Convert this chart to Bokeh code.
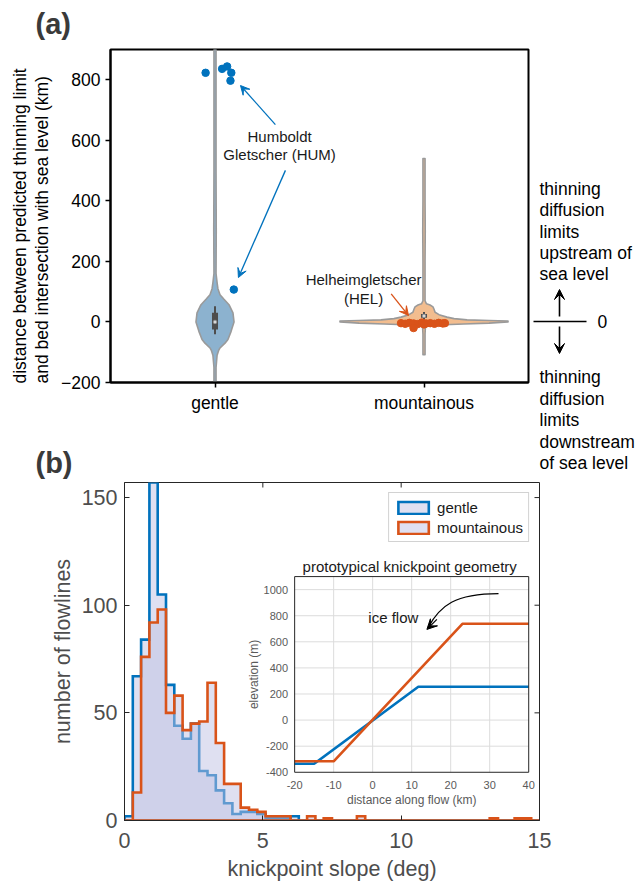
import numpy as np
from bokeh.plotting import figure
from bokeh.models import (Range1d, FixedTicker, Label, Arrow, VeeHead, GridBox)
from bokeh.embed import file_html
from bokeh.resources import INLINE
from bokeh.core.properties import value

FONT = "Liberation Sans"
BLUE = "#0072BD"
ORANGE = "#D95319"

# ---------------- panel (a) data ----------------
CATEGORIES = ["gentle", "mountainous"]
CAT_POS = [1, 2]
A_Y_TICKS = [-200, 0, 200, 400, 600, 800]

GENTLE_VIOLIN_Y = [-200, -150, -110, -95, -86, -70, -58, -31, 0, 30, 57, 75, 90, 110, 130, 160, 300, 500, 700, 900]
GENTLE_VIOLIN_HW = [0.005, 0.005, 0.010, 0.017, 0.024, 0.048, 0.062, 0.077, 0.091, 0.086,
                    0.067, 0.043, 0.024, 0.014, 0.010, 0.005, 0.006, 0.005, 0.005, 0.005]
MOUNT_VIOLIN_Y = [-108, -40, -14, -11, -9, -7, -4, 0, 3, 5, 7, 11, 16, 24, 32, 42, 50, 56, 60, 70, 200, 300, 400, 540]
MOUNT_VIOLIN_HW = [0.005, 0.005, 0.007, 0.038, 0.096, 0.191, 0.311, 0.402, 0.402, 0.311, 0.206, 0.144,
                   0.110, 0.072, 0.053, 0.048, 0.043, 0.029, 0.012, 0.005, 0.005, 0.006, 0.005, 0.005]

GENTLE_BOX = [-25, 30]
GENTLE_WHISKER = [-41, 52]
GENTLE_MEDIAN = 0
MOUNT_BOX = [14, 26]
MOUNT_WHISKER = [8, 33]
MOUNT_MEDIAN = 20

GENTLE_PTS_X = [0.955, 1.034, 1.058, 1.078, 1.074, 1.090]
GENTLE_PTS_Y = [823, 836, 844, 823, 797, 107]
MOUNT_PTS_X = [1.89, 1.91, 1.93, 1.95, 1.97, 1.99, 2.01, 2.03, 2.05, 2.07, 2.09, 2.10, 1.95, 2.00]
MOUNT_PTS_Y = [-4, -6, -3, -5, -7, -2, -5, -4, -6, -3, -5, -4, -20, -8]

# ---------------- panel (b) data ----------------
BIN_WIDTH = 0.3
GENTLE_COUNTS = [2, 67, 84, 157, 105, 63, 44, 38, 45, 23, 21, 14, 8, 3, 4, 4, 3, 1, 1, 1,
                 2, 0, 0, 0, 0, 0, 0, 0, 0, 0, 0, 0, 0, 0, 0, 0, 0, 0, 0, 0,
                 0, 0, 0, 0, 0, 0, 0, 0, 0, 0]
MOUNT_COUNTS = [0, 13, 76, 92, 98, 50, 58, 42, 45, 46, 64, 36, 17, 17, 6, 5, 4, 2, 2, 2,
                0, 0, 2, 0, 1, 0, 0, 0, 2, 0, 0, 0, 0, 0, 0, 0, 0, 0, 0, 0,
                0, 0, 0, 0, 1, 0, 0, 1, 1, 0]
B_X_TICKS = [0, 5, 10, 15]
B_Y_TICKS = [0, 50, 100, 150]

# inset data
INSET_X_TICKS = [-20, -10, 0, 10, 20, 30, 40]
INSET_Y_TICKS = [-400, -200, 0, 200, 400, 600, 800, 1000]
GENTLE_PROFILE_X = [-20, -15, 11.7, 40]
GENTLE_PROFILE_Y = [-335, -335, 255, 255]
MOUNT_PROFILE_X = [-20, -10, 23, 40]
MOUNT_PROFILE_Y = [-316, -316, 738, 738]

# side explanation texts (panel a)
UP_TEXT = ["thinning", "diffusion", "limits", "upstream of", "sea level"]
DOWN_TEXT = ["thinning", "diffusion", "limits", "downstream", "of sea level"]
A_YLABEL = ["distance between predicted thinning limit", "and bed intersection with sea level (km)"]

PAGE_W, PAGE_H = 636, 886


def no_align(p):
    try:
        p.frame_align = False
    except Exception:
        pass


def lab(p, x, y, text, size, color="black", align="left", baseline="middle",
        bold=False, angle=0, xr="default", yr="default"):
    p.add_layout(Label(x=x, y=y, text=text, text_font=FONT, text_font_size=f"{size}px",
                       text_color=color, text_align=align, text_baseline=baseline,
                       text_font_style="bold" if bold else "normal", angle=angle,
                       x_range_name=xr, y_range_name=yr))


# ================= panel (a) =================
pa = figure(width=PAGE_W, height=478, x_range=Range1d(0.5, 2.5), y_range=Range1d(-200, 900),
            output_backend="svg", toolbar_location=None,
            min_border_left=110, min_border_right=108, min_border_top=49, min_border_bottom=96)
no_align(pa)
pa.grid.visible = False
pa.outline_line_color = "black"
pa.outline_line_width = 2
pa.background_fill_color = "white"
pa.border_fill_color = "white"

for ax in (pa.xaxis[0], pa.yaxis[0]):
    ax.axis_line_color = "black"
    ax.axis_line_width = 2
    ax.major_tick_line_color = "black"
    ax.major_tick_line_width = 1.5
    ax.major_tick_in = 0
    ax.major_tick_out = 5
    ax.minor_tick_line_color = None
    ax.major_label_text_font = FONT
    ax.major_label_text_font_size = "17.5px"
    ax.major_label_text_color = "black"
    ax.major_label_standoff = 5

pa.xaxis.ticker = FixedTicker(ticks=CAT_POS)
pa.xaxis.major_label_overrides = {p: c for p, c in zip(CAT_POS, CATEGORIES)}
pa.yaxis.ticker = FixedTicker(ticks=A_Y_TICKS)
pa.yaxis.major_label_overrides = {t: (f"\u2212{abs(t)}" if t < 0 else str(t)) for t in A_Y_TICKS}


def violin_outline(center, ys, hws):
    xs = [center - h for h in hws] + [center + h for h in reversed(hws)]
    yy = list(ys) + list(reversed(ys))
    return xs, yy


for c, ys, hws, fc in ((CAT_POS[0], GENTLE_VIOLIN_Y, GENTLE_VIOLIN_HW, "#8cb2cf"),
                       (CAT_POS[1], MOUNT_VIOLIN_Y, MOUNT_VIOLIN_HW, "#f2bd8f")):
    xs, yy = violin_outline(c, ys, hws)
    pa.patch(xs, yy, fill_color=fc, line_color="#9a9a9a", line_width=1.6, line_join="round")

for c, box, wh, med in ((CAT_POS[0], GENTLE_BOX, GENTLE_WHISKER, GENTLE_MEDIAN),
                        (CAT_POS[1], MOUNT_BOX, MOUNT_WHISKER, MOUNT_MEDIAN)):
    pa.segment(x0=[c], y0=[wh[0]], x1=[c], y1=[wh[1]], line_color="#4d4d4d", line_width=2)
    pa.quad(left=[c - 0.0144], right=[c + 0.0144], bottom=[box[0]], top=[box[1]],
            fill_color="#4d4d4d", line_color=None)
    pa.scatter([c], [med], size=3.5, fill_color="#d9d9d9", line_color="#999999", line_width=0.8)

pa.scatter(GENTLE_PTS_X, GENTLE_PTS_Y, size=7.5, fill_color=BLUE, line_color=BLUE)
pa.scatter(MOUNT_PTS_X, MOUNT_PTS_Y, size=7.5, fill_color=ORANGE, line_color=ORANGE)

lab(pa, 1.309, 612.8, "Humboldt", 15, "#1a1a1a", "center")
lab(pa, 1.309, 553.4, "Gletscher (HUM)", 15, "#1a1a1a", "center")
pa.add_layout(Arrow(end=VeeHead(size=9, fill_color=BLUE, line_color=BLUE, line_width=1),
                    x_start=1.289, y_start=652, x_end=1.122, y_end=781,
                    line_color=BLUE, line_width=1.3))
pa.add_layout(Arrow(end=VeeHead(size=9, fill_color=BLUE, line_color=BLUE, line_width=1),
                    x_start=1.337, y_start=500.7, x_end=1.112, y_end=146.7,
                    line_color=BLUE, line_width=1.3))
lab(pa, 1.711, 139, "Helheimgletscher", 15, "#1a1a1a", "center")
lab(pa, 1.711, 78.3, "(HEL)", 15, "#1a1a1a", "center")
pa.add_layout(Arrow(end=VeeHead(size=9, fill_color=ORANGE, line_color=ORANGE, line_width=1),
                    x_start=1.843, y_start=92.8, x_end=1.926, y_end=21.1,
                    line_color=ORANGE, line_width=1.3))

# ================= panel (b) =================
XMAX, YMAX = 15, 157
B_FRAME_W, B_FRAME_H = 415, 338
pb = figure(width=PAGE_W, height=408, x_range=Range1d(0, XMAX), y_range=Range1d(0, YMAX),
            output_backend="svg", toolbar_location=None,
            min_border_left=124, min_border_right=97, min_border_top=4, min_border_bottom=66)
no_align(pb)
pb.grid.visible = False
pb.outline_line_color = "#262626"
pb.outline_line_width = 1
pb.background_fill_color = "white"
pb.border_fill_color = "white"

AX_COL = "#262626"
LBL_COL = "#4d4d4d"
for ax in (pb.xaxis[0], pb.yaxis[0]):
    ax.axis_line_color = AX_COL
    ax.major_tick_line_color = AX_COL
    ax.major_tick_in = 5
    ax.major_tick_out = 0
    ax.minor_tick_line_color = None
    ax.major_label_text_font = FONT
    ax.major_label_text_font_size = "21.5px"
    ax.major_label_text_color = LBL_COL
    ax.major_label_standoff = 7
    ax.axis_label_text_font = FONT
    ax.axis_label_text_font_size = "21.5px"
    ax.axis_label_text_font_style = "normal"
    ax.axis_label_text_color = LBL_COL
    ax.axis_label_standoff = 4
pb.xaxis.major_label_standoff = 12
pb.xaxis.axis_label_standoff = 6
pb.xaxis.ticker = FixedTicker(ticks=B_X_TICKS)
pb.yaxis.ticker = FixedTicker(ticks=B_Y_TICKS)
pb.xaxis.axis_label = "knickpoint slope (deg)"
pb.yaxis.axis_label = "number of flowlines"

tick_dy = 5 * YMAX / B_FRAME_H
tick_dx = 5 * XMAX / B_FRAME_W
tx = [t for t in B_X_TICKS if 0 < t < XMAX]
ty = [t for t in B_Y_TICKS if 0 < t < YMAX]
pb.segment(x0=tx, y0=[YMAX] * len(tx), x1=tx, y1=[YMAX - tick_dy] * len(tx), line_color=AX_COL, line_width=1)
pb.segment(x0=[XMAX] * len(ty), y0=ty, x1=[XMAX - tick_dx] * len(ty), y1=ty, line_color=AX_COL, line_width=1)


def step_outline(counts, width):
    xs, ys = [0.0], [0.0]
    for i, c in enumerate(counts):
        xs += [i * width, (i + 1) * width]
        ys += [c, c]
    xs.append(len(counts) * width)
    ys.append(0.0)
    return xs, ys


HIST_FACE = "#bfc1e4"
gx, gy = step_outline(GENTLE_COUNTS, BIN_WIDTH)
mx, my = step_outline(MOUNT_COUNTS, BIN_WIDTH)
pb.patch(gx, gy, fill_color=HIST_FACE, fill_alpha=0.5, line_color=BLUE, line_width=2.6,
         line_join="miter", legend_label="gentle")
pb.patch(mx, my, fill_color=HIST_FACE, fill_alpha=0.5, line_color=ORANGE, line_width=2.6,
         line_join="miter", legend_label="mountainous")

lg = pb.legend[0]
lg.location = "top_right"
lg.margin = 10
lg.padding = 5
lg.spacing = 2
lg.glyph_width = 38
lg.glyph_height = 15
lg.label_standoff = 5
lg.label_text_font = FONT
lg.label_text_font_size = "15px"
lg.label_text_color = "#1a1a1a"
lg.label_height = 18
lg.border_line_color = "#a6a6a6"
lg.border_line_width = 1
lg.background_fill_alpha = 1

# ---- inset, mapped into a sub-box of the main frame through extra ranges ----
IX0, IX1 = 6.15, 14.61
IY0, IY1 = 22.4, 113.3
INSET_XLIM = (-20, 40)
INSET_YLIM = (-400, 1100)
kx = (INSET_XLIM[1] - INSET_XLIM[0]) / (IX1 - IX0)
ky = (INSET_YLIM[1] - INSET_YLIM[0]) / (IY1 - IY0)
pb.extra_x_ranges = {"ix": Range1d(INSET_XLIM[0] - IX0 * kx, INSET_XLIM[1] + (XMAX - IX1) * kx)}
pb.extra_y_ranges = {"iy": Range1d(INSET_YLIM[0] - IY0 * ky, INSET_YLIM[1] + (YMAX - IY1) * ky)}
R = dict(x_range_name="ix", y_range_name="iy")

pb.quad(left=[INSET_XLIM[0]], right=[INSET_XLIM[1]], bottom=[INSET_YLIM[0]], top=[INSET_YLIM[1]],
        fill_color="white", line_color=None, **R)
gxt = [t for t in INSET_X_TICKS if INSET_XLIM[0] < t < INSET_XLIM[1]]
gyt = [t for t in INSET_Y_TICKS if INSET_YLIM[0] < t < INSET_YLIM[1]]
pb.segment(x0=gxt, y0=[INSET_YLIM[0]] * len(gxt), x1=gxt, y1=[INSET_YLIM[1]] * len(gxt),
           line_color="#dcdcdc", line_width=1, **R)
pb.segment(x0=[INSET_XLIM[0]] * len(gyt), y0=gyt, x1=[INSET_XLIM[1]] * len(gyt), y1=gyt,
           line_color="#dcdcdc", line_width=1, **R)
pb.line(GENTLE_PROFILE_X, GENTLE_PROFILE_Y, line_color=BLUE, line_width=2.6, **R)
pb.line(MOUNT_PROFILE_X, MOUNT_PROFILE_Y, line_color=ORANGE, line_width=2.6, **R)
pb.quad(left=[INSET_XLIM[0]], right=[INSET_XLIM[1]], bottom=[INSET_YLIM[0]], top=[INSET_YLIM[1]],
        fill_color=None, line_color="#262626", line_width=1, **R)

TICK_COL = "#5a5a5a"
pb.text(x=INSET_X_TICKS, y=[-494] * len(INSET_X_TICKS), text=[str(t) for t in INSET_X_TICKS],
        text_align="center", text_baseline="middle", text_font=value(FONT),
        text_font_size="11px", text_color=TICK_COL, **R)
pb.text(x=[-21.7] * len(INSET_Y_TICKS), y=INSET_Y_TICKS, text=[str(t) for t in INSET_Y_TICKS],
        text_align="right", text_baseline="middle", text_font=value(FONT),
        text_font_size="11px", text_color=TICK_COL, **R)
lab(pb, 10, -616, "distance along flow (km)", 12, TICK_COL, "center", xr="ix", yr="iy")
lab(pb, -30.4, 350, "elevation (m)", 12, TICK_COL, "center", angle=np.pi / 2, xr="ix", yr="iy")
lab(pb, 9.5, 1178, "prototypical knickpoint geometry", 15, "#1a1a1a", "center", xr="ix", yr="iy")
lab(pb, 5.3, 785, "ice flow", 15, "#1a1a1a", "center", xr="ix", yr="iy")

pb.bezier(x0=[32.26], y0=[968.9], x1=[14.23], y1=[710.4], cx0=[21.15], cy0=[968.9],
          cx1=[17.31], cy1=[879.1], line_color="black", line_width=1.2, **R)
pb.add_layout(Arrow(end=VeeHead(size=10, fill_color="black", line_color="black", line_width=1),
                    x_start=16.46, y_start=771.8, x_end=13.9, y_end=695,
                    line_color="black", line_width=1.2, x_range_name="ix", y_range_name="iy"))

# ================= page overlay (texts outside the axes boxes) =================
ov = figure(width=PAGE_W, height=PAGE_H, x_range=Range1d(0, PAGE_W), y_range=Range1d(0, PAGE_H),
            x_axis_type=None, y_axis_type=None, output_backend="svg", toolbar_location=None,
            min_border_left=0, min_border_right=0, min_border_top=0, min_border_bottom=0)
no_align(ov)
ov.outline_line_color = None
ov.background_fill_color = None
ov.border_fill_color = None


def Y(page_y):
    return PAGE_H - page_y


def otext(xs, ys, texts, size, color="black", align="left", bold=False, angle=0.0):
    ov.text(x=xs, y=[Y(v) for v in ys], text=texts, text_font=value(FONT),
            text_font_size=f"{size}px", text_color=color, text_align=align,
            text_baseline="middle", text_font_style="bold" if bold else "normal", angle=angle)


otext([35, 35], [23.5, 462], ["(a)", "(b)"], 29, "#3a3a3a", bold=True)
otext([19, 41], [383, 383], A_YLABEL, 17.5, "black", angle=np.pi / 2)
otext([539] * 5, [188, 209.5, 231, 252, 273], UP_TEXT, 17.5)
otext([539] * 5, [376, 398, 419, 441, 462], DOWN_TEXT, 17.5)
otext([597], [321], ["0"], 17.5)
ov.segment(x0=[533], y0=[Y(321)], x1=[586], y1=[Y(321)], line_color="black", line_width=1.6)
ov.add_layout(Arrow(end=VeeHead(size=10, fill_color="black", line_color="black", line_width=1),
                    x_start=559, y_start=Y(316), x_end=559, y_end=Y(289),
                    line_color="black", line_width=1.6))
ov.add_layout(Arrow(end=VeeHead(size=10, fill_color="black", line_color="black", line_width=1),
                    x_start=559, y_start=Y(326), x_end=559, y_end=Y(353),
                    line_color="black", line_width=1.6))

layout = GridBox(children=[(pa, 0, 0), (pb, 1, 0), (ov, 0, 0, 2, 1)], spacing=0)
open("out.html", "w").write(file_html(layout, INLINE))
